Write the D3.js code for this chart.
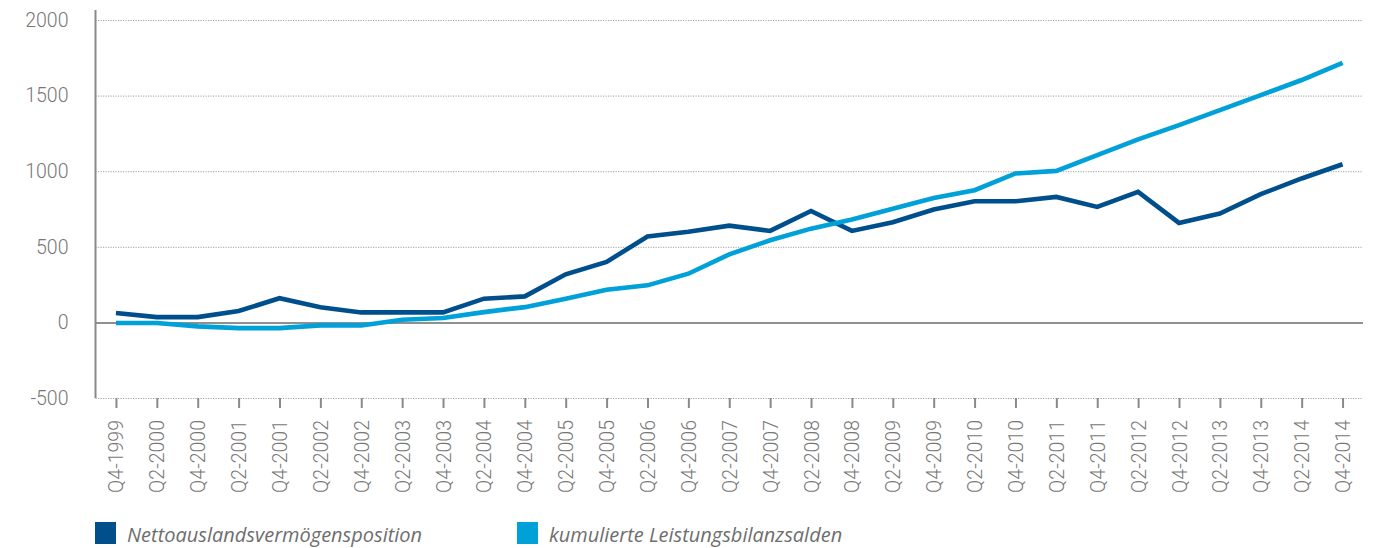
<!DOCTYPE html>
<html>
<head>
<meta charset="utf-8">
<script src="https://cdn.jsdelivr.net/npm/d3@7"></script>
<style>
  body { margin: 0; background: #fff; }
  #chart-container { width: 1379px; height: 548px; }
  .y-axis text, .x-axis text { font-family: Roboto, "Liberation Sans", sans-serif; font-weight: 300; fill: #777; }
  .legend text { font-family: "Open Sans", "Noto Sans", sans-serif; font-style: italic; fill: #6e6e6e; }
</style>
</head>
<body>
<div id="chart-container"></div>
<script>
// quarters on the x axis
const quarters = ["Q4-1999","Q2-2000","Q4-2000","Q2-2001","Q4-2001","Q2-2002","Q4-2002","Q2-2003","Q4-2003",
  "Q2-2004","Q4-2004","Q2-2005","Q4-2005","Q2-2006","Q4-2006","Q2-2007","Q4-2007","Q2-2008","Q4-2008",
  "Q2-2009","Q4-2009","Q2-2010","Q4-2010","Q2-2011","Q4-2011","Q2-2012","Q4-2012","Q2-2013","Q4-2013",
  "Q2-2014","Q4-2014"];

// Nettoauslandsvermögensposition
const nettoValues = [62, 35, 35, 75, 160, 100, 66, 66, 66,
  157, 172, 318, 400, 568, 600, 640, 605, 737, 605,
  662, 746, 801, 801, 830, 764, 863, 658, 720, 848,
  952, 1046];

// kumulierte Leistungsbilanzsalden
const kumValues = [-4, -4, -26, -38, -38, -20, -20, 18, 29,
  68, 101, 157, 216, 245, 322, 450, 543, 620, 680,
  752, 822, 874, 985, 1002, 1106, 1210, 1305, 1404, 1503,
  1603, 1717];

const yTicks = [-500, 0, 500, 1000, 1500, 2000];
const seriesNames = ["Nettoauslandsvermögensposition", "kumulierte Leistungsbilanzsalden"];
const colors = ["#004f8d", "#00a0d9"];

const width = 1379, height = 548;
const margin = {top: 20, right: 16, bottom: 150, left: 95.5};
const innerW = width - margin.left - margin.right;
const innerH = height - margin.top - margin.bottom;

const svg = d3.select("#chart-container").append("svg")
    .attr("width", width)
    .attr("height", height);

const chartGroup = svg.append("g")
    .attr("transform", `translate(${margin.left}, ${margin.top})`);

const xScale = d3.scalePoint().domain(quarters).range([0, innerW]).padding(0.5);
const yScale = d3.scaleLinear().domain([-500, 2000]).range([innerH, 0]);

// grid + y labels
const yAxis = chartGroup.append("g")
    .attr("class", "y-axis")
    .call(d3.axisLeft(yScale).tickValues(yTicks).tickSize(-innerW).tickPadding(27).tickFormat(d => String(d)));
yAxis.select(".domain").remove();
yAxis.selectAll(".tick line")
    .attr("stroke", d => d === 0 ? "#6b6b6b" : "#a0a0a0")
    .attr("stroke-width", d => d === 0 ? 1.5 : 1)
    .attr("stroke-dasharray", d => d === 0 ? null : "1.2,1.3");
yAxis.selectAll(".tick text").style("font-size", "19.5px");

// left axis line
chartGroup.append("line")
    .attr("x1", 0).attr("x2", 0)
    .attr("y1", -10).attr("y2", innerH)
    .attr("stroke", "#8a8a8a")
    .attr("stroke-width", 2);

// x axis
const xAxis = chartGroup.append("g")
    .attr("class", "x-axis")
    .attr("transform", `translate(0, ${innerH})`)
    .call(d3.axisBottom(xScale).tickSize(10).tickPadding(12));
xAxis.select(".domain").remove();
xAxis.selectAll(".tick line").attr("stroke", "#8a8a8a").attr("stroke-width", 2);
xAxis.selectAll(".tick text")
    .style("font-size", "19.5px")
    .attr("text-anchor", "end")
    .attr("transform", "rotate(-90)")
    .attr("x", -22)
    .attr("y", 0)
    .attr("dy", "0.36em");

// lines
const lineGen = d3.line()
    .x((d, i) => xScale(quarters[i]))
    .y(d => yScale(d));

[nettoValues, kumValues].forEach((vals, i) => {
  chartGroup.append("path")
      .datum(vals)
      .attr("fill", "none")
      .attr("stroke", colors[i])
      .attr("stroke-width", 4.6)
      .attr("d", lineGen);
});

// legend
const legendX = [95, 517];
const legend = svg.append("g").attr("class", "legend");
seriesNames.forEach((name, i) => {
  legend.append("rect")
      .attr("x", legendX[i]).attr("y", 522)
      .attr("width", 21).attr("height", 22)
      .attr("fill", colors[i]);
  legend.append("text")
      .attr("x", legendX[i] + 32).attr("y", 542)
      .style("font-size", "20px")
      .text(name);
});
</script>
</body>
</html>
